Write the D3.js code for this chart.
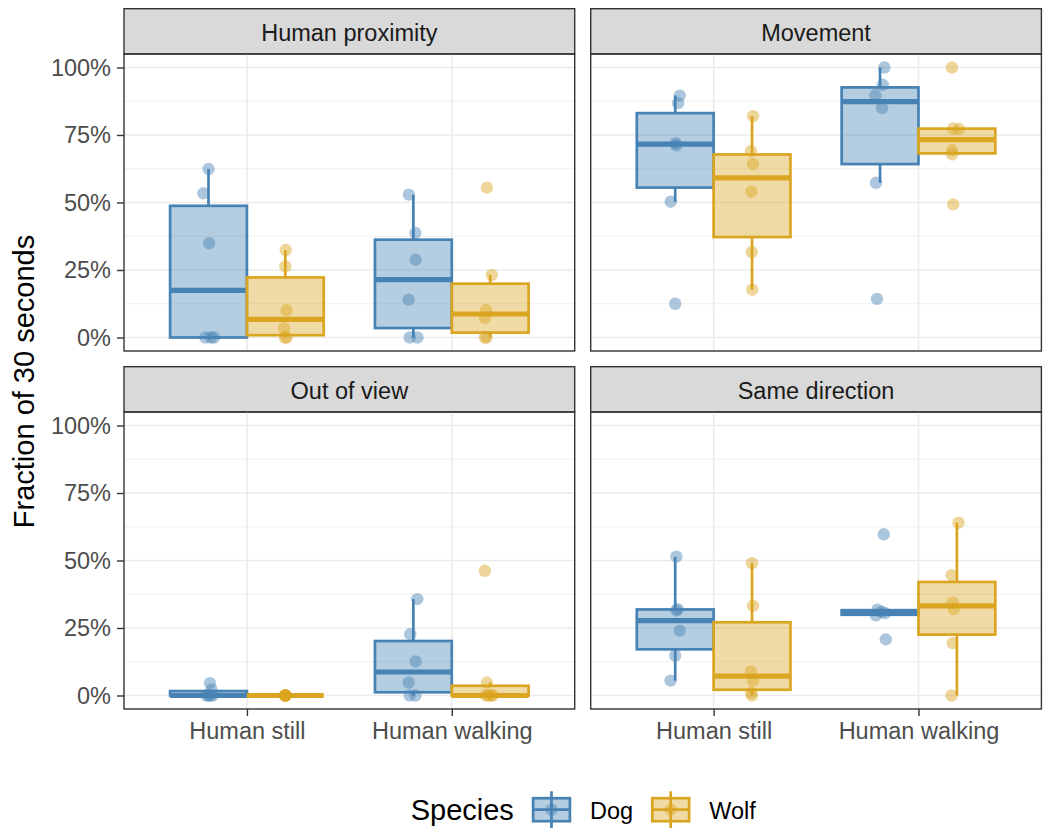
<!DOCTYPE html>
<html>
<head>
<meta charset="utf-8">
<script src="https://cdn.jsdelivr.net/npm/d3@7"></script>
<style>
  body { margin: 0; background: #fff; }
  svg text { font-family: "Liberation Sans", Arial, Helvetica, sans-serif; }
</style>
</head>
<body>
<div class="chart"></div>
<script>
// Facets, x categories, fill groups
var facets = ["Human proximity", "Movement", "Out of view", "Same direction"];
var conditions = ["Human still", "Human walking"];
var species = ["Dog", "Wolf"];
var yTicks = [0, 0.25, 0.5, 0.75, 1];
var yMinor = [0.125, 0.375, 0.625, 0.875];

// Per facet: [still Dog, still Wolf, walking Dog, walking Wolf], one value per animal
var proximity = [
  [0.624, 0.534, 0.349, 0, 0, 0],
  [0.324, 0.263, 0.101, 0.034, 0, 0],
  [0.529, 0.387, 0.288, 0.140, 0, 0],
  [0.555, 0.232, 0.101, 0.073, 0, 0]
];
var movement = [
  [0.896, 0.868, 0.712, 0.720, 0.503, 0.125],
  [0.820, 0.690, 0.642, 0.540, 0.316, 0.177],
  [1.000, 0.936, 0.897, 0.850, 0.573, 0.143],
  [1.000, 0.774, 0.772, 0.694, 0.678, 0.493]
];
var outOfView = [
  [0.046, 0.022, 0, 0, 0, 0],
  [0, 0, 0, 0, 0, 0],
  [0.357, 0.227, 0.126, 0.048, 0, 0],
  [0.462, 0.048, 0, 0, 0, 0]
];
var sameDirection = [
  [0.514, 0.320, 0.315, 0.240, 0.148, 0.055],
  [0.490, 0.332, 0.089, 0.055, 0.010, 0],
  [0.597, 0.318, 0.310, 0.305, 0.297, 0.208],
  [0.640, 0.446, 0.344, 0.320, 0.194, 0]
];

// horizontal jitter of each point (fraction of a category step)
var proximityJitter = [
  [0, -0.025, 0.003, -0.015, 0.012, 0.027],
  [0.002, 0, 0.006, -0.006, 0.006, -0.002],
  [-0.022, 0.010, 0.011, -0.023, -0.018, 0.020],
  [-0.016, 0.008, -0.020, -0.026, -0.026, -0.018]
];
var movementJitter = [
  [0.022, 0.014, 0.006, 0.002, -0.022, 0],
  [0.005, -0.005, 0.005, -0.003, -0.001, 0.001],
  [0.021, 0.013, -0.023, 0.010, -0.020, -0.015],
  [-0.024, -0.018, 0.011, -0.024, -0.023, -0.018]
];
var outOfViewJitter = [
  [0.007, 0.015, -0.010, 0, 0.010, 0.020],
  [0, 0, 0.002, -0.002, 0.001, -0.001],
  [0.019, -0.015, 0.011, -0.023, -0.018, 0.010],
  [-0.026, -0.016, -0.020, 0.011, -0.010, 0.005]
];
var sameDirectionJitter = [
  [0.006, 0.012, 0.006, 0.022, 0, -0.023],
  [0, 0.005, -0.006, 0.005, -0.005, 0],
  [0.018, -0.013, 0.008, 0.024, -0.020, 0.028],
  [0.008, -0.026, -0.021, -0.015, -0.021, -0.026]
];

var facetValues = [proximity, movement, outOfView, sameDirection];
var facetJitter = [proximityJitter, movementJitter, outOfViewJitter, sameDirectionJitter];

var svgWidth = 1045;
var svgHeight = 828;

// layout of the 2x2 facet grid
var colLeft = [124, 590.7];
var panelWidth = 450.7;
var stripTop = [8.7, 366.7];
var stripHeight = 45.3;
var panelHeight = 297;

var tickFont = "23.5px";
var titleFont = "29px";

var color = d3.scaleOrdinal().domain(species).range(["#4682B4", "#DAA520"]);

var svg = d3.select(".chart")
  .append("svg")
  .attr("width", svgWidth)
  .attr("height", svgHeight);

var x = d3.scalePoint().domain(conditions).range([0, panelWidth]).padding(0.6);
var step = x.step();
var xSpecies = d3.scaleBand().domain(species).range([-0.375 * step, 0.375 * step]);
var bw = xSpecies.bandwidth();
var y = d3.scaleLinear().domain([-0.05, 1.05]).range([panelHeight, 0]);

// Tukey box stats, same quantile type as R
function boxStats(v) {
  var q1 = d3.quantile(v, 0.25);
  var med = d3.quantile(v, 0.5);
  var q3 = d3.quantile(v, 0.75);
  var iqr = q3 - q1;
  var lo = d3.min(v.filter(d => d >= q1 - 1.5 * iqr));
  var hi = d3.max(v.filter(d => d <= q3 + 1.5 * iqr));
  return {q1: q1, med: med, q3: q3, lo: lo, hi: hi};
}

facets.forEach(function(name, i) {
  var col = i % 2;
  var row = Math.floor(i / 2);
  var top = stripTop[row] + stripHeight;

  // strip
  svg.append("rect")
    .attr("x", colLeft[col])
    .attr("y", stripTop[row])
    .attr("width", panelWidth)
    .attr("height", stripHeight)
    .attr("fill", "#d9d9d9")
    .attr("stroke", "#333333")
    .attr("stroke-width", 1.4);

  svg.append("text")
    .attr("x", colLeft[col] + panelWidth / 2)
    .attr("y", stripTop[row] + stripHeight / 2 + 1)
    .attr("dy", "0.35em")
    .attr("text-anchor", "middle")
    .attr("fill", "#1a1a1a")
    .style("font-size", tickFont)
    .text(name);

  var g = svg.append("g")
    .attr("transform", `translate(${colLeft[col]}, ${top})`);

  // grid
  g.selectAll(".minor")
    .data(yMinor)
    .enter()
    .append("line")
    .attr("x1", 0).attr("x2", panelWidth)
    .attr("y1", d => y(d)).attr("y2", d => y(d))
    .attr("stroke", "#ebebeb")
    .attr("stroke-width", 0.8);

  g.selectAll(".major")
    .data(yTicks)
    .enter()
    .append("line")
    .attr("x1", 0).attr("x2", panelWidth)
    .attr("y1", d => y(d)).attr("y2", d => y(d))
    .attr("stroke", "#ebebeb")
    .attr("stroke-width", 1.6);

  g.selectAll(".vgrid")
    .data(conditions)
    .enter()
    .append("line")
    .attr("x1", d => x(d)).attr("x2", d => x(d))
    .attr("y1", 0).attr("y2", panelHeight)
    .attr("stroke", "#ebebeb")
    .attr("stroke-width", 1.6);

  var series = facetValues[i];
  var jitter = facetJitter[i];

  // boxes
  series.forEach(function(vals, k) {
    var cond = conditions[Math.floor(k / 2)];
    var sp = species[k % 2];
    var s = boxStats(vals);
    var x0 = x(cond) + xSpecies(sp);
    var cx = x0 + bw / 2;
    var c = color(sp);

    g.append("line")
      .attr("x1", cx).attr("x2", cx)
      .attr("y1", y(s.q3)).attr("y2", y(s.hi))
      .attr("stroke", c).attr("stroke-width", 2.7);
    g.append("line")
      .attr("x1", cx).attr("x2", cx)
      .attr("y1", y(s.q1)).attr("y2", y(s.lo))
      .attr("stroke", c).attr("stroke-width", 2.7);

    g.append("rect")
      .attr("x", x0)
      .attr("y", y(s.q3))
      .attr("width", bw)
      .attr("height", y(s.q1) - y(s.q3))
      .attr("fill", c)
      .attr("fill-opacity", 0.4)
      .attr("stroke", c)
      .attr("stroke-width", 2.7);

    g.append("line")
      .attr("x1", x0).attr("x2", x0 + bw)
      .attr("y1", y(s.med)).attr("y2", y(s.med))
      .attr("stroke", c).attr("stroke-width", 5.2);
  });

  // jittered points on top
  series.forEach(function(vals, k) {
    var cond = conditions[Math.floor(k / 2)];
    var sp = species[k % 2];
    var cx = x(cond) + xSpecies(sp) + bw / 2;

    g.selectAll(null)
      .data(vals)
      .enter()
      .append("circle")
      .attr("cx", (d, j) => cx + jitter[k][j] * step)
      .attr("cy", d => y(d))
      .attr("r", 6.2)
      .attr("fill", color(sp))
      .attr("fill-opacity", 0.45);
  });

  // panel border
  g.append("rect")
    .attr("width", panelWidth)
    .attr("height", panelHeight)
    .attr("fill", "none")
    .attr("stroke", "#333333")
    .attr("stroke-width", 1.4);

  // axes only on outer panels
  if (col === 0) {
    var leftAxis = d3.axisLeft(y)
      .tickValues(yTicks)
      .tickFormat(d3.format(".0%"))
      .tickSize(7)
      .tickPadding(6);
    var ya = g.append("g").call(leftAxis);
    ya.select(".domain").remove();
    ya.selectAll("line").attr("stroke", "#333333").attr("stroke-width", 1.4);
    ya.selectAll("text")
      .attr("fill", "#4d4d4d")
      .style("font-size", tickFont)
      .style("font-family", "'Liberation Sans', Arial, sans-serif");
  }
  if (row === 1) {
    var bottomAxis = d3.axisBottom(x)
      .tickSize(7)
      .tickPadding(6);
    var xa = g.append("g")
      .attr("transform", `translate(0, ${panelHeight})`)
      .call(bottomAxis);
    xa.select(".domain").remove();
    xa.selectAll("line").attr("stroke", "#333333").attr("stroke-width", 1.4);
    xa.selectAll("text")
      .attr("fill", "#4d4d4d")
      .style("font-size", tickFont)
      .style("font-family", "'Liberation Sans', Arial, sans-serif");
  }
});

// y axis title
svg.append("text")
  .attr("transform", `translate(34, ${(stripTop[0] + stripTop[1] + stripHeight + panelHeight + stripHeight) / 2}) rotate(-90)`)
  .attr("text-anchor", "middle")
  .attr("fill", "#000")
  .style("font-size", titleFont)
  .text("Fraction of 30 seconds");

// legend
var legend = svg.append("g");
legend.append("text")
  .attr("x", 410.7)
  .attr("y", 820)
  .attr("fill", "#000")
  .style("font-size", titleFont)
  .text("Species");

var keyCenters = [551.5, 670.7];
var keyY = 809.7;
species.forEach(function(sp, i) {
  var kx = keyCenters[i];
  var c = color(sp);
  var key = legend.append("g");
  key.append("line")
    .attr("x1", kx).attr("x2", kx)
    .attr("y1", keyY - 18.4).attr("y2", keyY + 18.4)
    .attr("stroke", c).attr("stroke-width", 2.7);
  key.append("rect")
    .attr("x", kx - 18.4).attr("y", keyY - 11.5)
    .attr("width", 36.8).attr("height", 23)
    .attr("fill", c).attr("fill-opacity", 0.4)
    .attr("stroke", c).attr("stroke-width", 2.7);
  key.append("line")
    .attr("x1", kx - 18.4).attr("x2", kx + 18.4)
    .attr("y1", keyY).attr("y2", keyY)
    .attr("stroke", c).attr("stroke-width", 2.7);
  key.append("circle")
    .attr("cx", kx).attr("cy", keyY)
    .attr("r", 6.2)
    .attr("fill", c).attr("fill-opacity", 0.45);
  legend.append("text")
    .attr("x", kx + 38.5)
    .attr("y", 819.3)
    .attr("fill", "#000")
    .style("font-size", tickFont)
    .text(sp);
});
</script>
</body>
</html>
